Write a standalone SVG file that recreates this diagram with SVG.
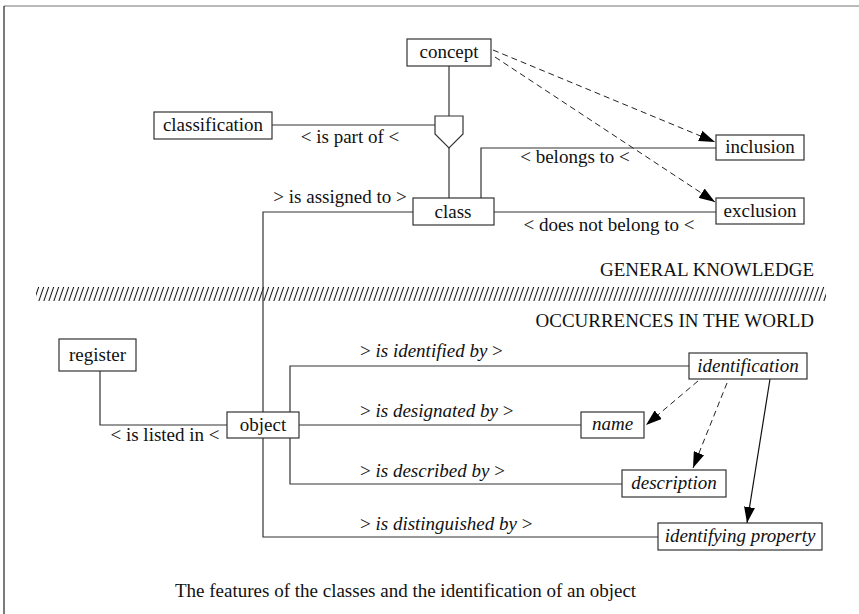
<svg xmlns="http://www.w3.org/2000/svg" width="859" height="614" viewBox="0 0 859 614">
  <defs>
    <marker id="head" viewBox="0 0 16 11" refX="16" refY="5.5" markerWidth="16" markerHeight="11" markerUnits="userSpaceOnUse" orient="auto">
      <path d="M0,0 L16,5.5 L0,11 z" fill="#000"/>
    </marker>
    <pattern id="hatch" width="5" height="100" patternUnits="userSpaceOnUse" patternTransform="skewX(-19)">
      <line x1="2.5" y1="0" x2="2.5" y2="100" stroke="#111" stroke-width="1.1"/>
    </pattern>
  </defs>
  <style>
    text { font-family: "Liberation Serif", "Times New Roman", serif; font-size: 19px; fill: #111; }
    .c { text-anchor: middle; }
    .r { text-anchor: end; }
    .it { font-style: italic; }
    .box { fill: #fff; stroke: #333; stroke-width: 1.2; }
    .wire { fill: none; stroke: #333; stroke-width: 1.2; }
    .dash { fill: none; stroke: #222; stroke-width: 1; stroke-dasharray: 6 4; }
    .solid { fill: none; stroke: #111; stroke-width: 1.2; }
  </style>

  <rect width="859" height="614" fill="#fff"/>

  <!-- frame -->
  <line x1="4" y1="6" x2="859" y2="6" stroke="#777" stroke-width="1"/>
  <line x1="4" y1="6" x2="4" y2="614" stroke="#222" stroke-width="1.2"/>

  <!-- separator between the two levels -->
  <g id="divider">
    <text class="r" x="814" y="276">GENERAL KNOWLEDGE</text>
    <rect x="36" y="287" width="790" height="14" fill="url(#hatch)"/>
    <text class="r" x="814" y="327">OCCURRENCES IN THE WORLD</text>
  </g>

  <g id="connectors">
    <!-- concept to class through the aggregation shield -->
    <line class="wire" x1="449" y1="66" x2="449" y2="116"/>
    <line class="wire" x1="449" y1="148" x2="449" y2="198"/>
    <line class="wire" x1="272" y1="125" x2="435" y2="125"/>
    <!-- class relations -->
    <polyline class="wire" points="481,198 481,148 716,148"/>
    <line class="wire" x1="494" y1="212" x2="716" y2="212"/>
    <polyline class="wire" points="413,212 263,212 263,537 658,537"/>
    <!-- object relations -->
    <polyline class="wire" points="100,371 100,425 227,425"/>
    <line class="wire" x1="299" y1="425" x2="581" y2="425"/>
    <polyline class="wire" points="689,366 290,366 290,484 622,484"/>
    <!-- dependency arrows -->
    <line class="dash" x1="493" y1="50" x2="715" y2="142" marker-end="url(#head)"/>
    <line class="dash" x1="495" y1="57" x2="715" y2="202" marker-end="url(#head)"/>
    <line class="dash" x1="698" y1="381" x2="646" y2="425" marker-end="url(#head)"/>
    <line class="dash" x1="727" y1="383" x2="693" y2="468" marker-end="url(#head)"/>
    <line class="solid" x1="770" y1="379" x2="747" y2="523" marker-end="url(#head)"/>
  </g>

  <g id="labels">
    <text class="c" x="350" y="143">&lt; is part of &lt;</text>
    <text class="c" x="340" y="203">&gt; is assigned to &gt;</text>
    <text class="c" x="575" y="163">&lt; belongs to &lt;</text>
    <text class="c" x="609" y="231">&lt; does not belong to &lt;</text>
    <text class="c" x="165" y="441">&lt; is listed in &lt;</text>
    <text x="360" y="357">&gt; <tspan class="it">is identified by</tspan> &gt;</text>
    <text x="360" y="417">&gt; <tspan class="it">is designated by</tspan> &gt;</text>
    <text x="360" y="477">&gt; <tspan class="it">is described by</tspan> &gt;</text>
    <text x="360" y="530">&gt; <tspan class="it">is distinguished by</tspan> &gt;</text>
  </g>

  <g id="aggregation">
    <path class="box" d="M435,116 L463,116 L463,134 L449,148 L435,134 z"/>
  </g>

  <g id="concept">
    <rect class="box" x="407" y="39" width="84" height="27"/>
    <text class="c" x="449" y="58">concept</text>
  </g>
  <g id="classification">
    <rect class="box" x="154" y="112" width="118" height="27"/>
    <text class="c" x="213" y="131">classification</text>
  </g>
  <g id="class">
    <rect class="box" x="413" y="198" width="81" height="27"/>
    <text class="c" x="453" y="218">class</text>
  </g>
  <g id="inclusion">
    <rect class="box" x="716" y="135" width="88" height="25"/>
    <text class="c" x="760" y="153">inclusion</text>
  </g>
  <g id="exclusion">
    <rect class="box" x="716" y="198" width="88" height="26"/>
    <text class="c" x="760" y="217">exclusion</text>
  </g>
  <g id="register">
    <rect class="box" x="59" y="339" width="77" height="32"/>
    <text class="c" x="97.5" y="361">register</text>
  </g>
  <g id="object">
    <rect class="box" x="227" y="412" width="72" height="26"/>
    <text class="c" x="263" y="431">object</text>
  </g>
  <g id="identification">
    <rect class="box" x="689" y="353" width="118" height="26"/>
    <text class="c it" x="748" y="372">identification</text>
  </g>
  <g id="name">
    <rect class="box" x="581" y="412" width="63" height="26"/>
    <text class="c it" x="612.5" y="430">name</text>
  </g>
  <g id="description">
    <rect class="box" x="622" y="470" width="104" height="27"/>
    <text class="c it" x="674" y="489">description</text>
  </g>
  <g id="identifying-property">
    <rect class="box" x="658" y="523" width="164" height="27"/>
    <text class="c it" x="740" y="542">identifying property</text>
  </g>

  <text x="175" y="597">The features of the classes and the identification of an object</text>
</svg>
